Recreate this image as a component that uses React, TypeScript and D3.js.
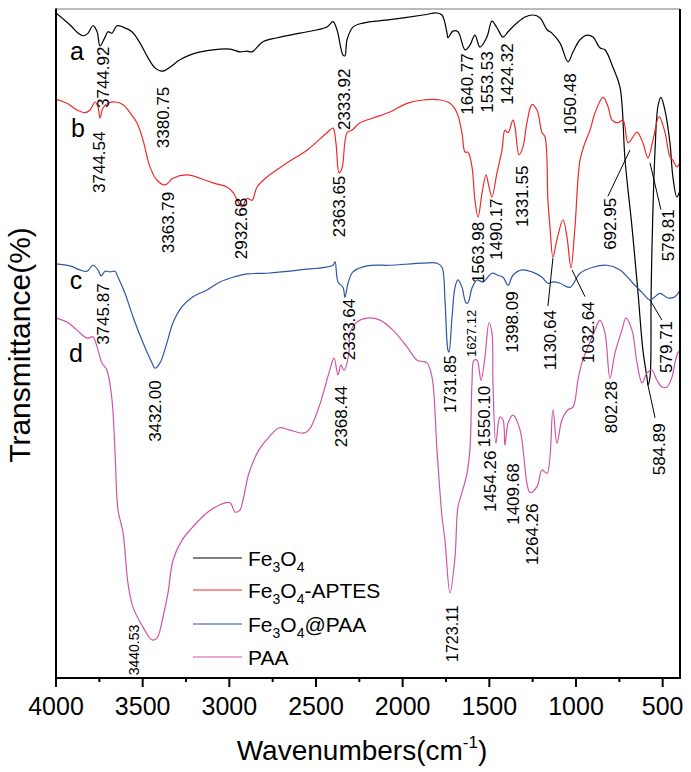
import React from "react";
import * as d3 from "d3";

// ---- data: [wavenumber (cm-1), transmittance (a.u., stacked)] ----
const seriesNames = ["Fe3O4", "Fe3O4-APTES", "Fe3O4@PAA", "PAA"];
const seriesColors = ["#000000", "#ee2a2a", "#2f55a4", "#cf55a6"];

const fe3o4: [number, number][] = [
  [4000, 99.4], [3919, 97.6], [3873, 96.4], [3844, 96.0], [3815, 96.4], [3787, 97.5], [3763, 96.6], [3746, 94.5],
  [3717, 95.8], [3700, 96.6], [3677, 96.4], [3648, 97.5], [3613, 97.3], [3562, 96.6], [3515, 94.9], [3469, 92.7],
  [3429, 91.2], [3388, 90.7], [3342, 91.3], [3285, 92.4], [3210, 93.3], [3094, 93.9], [2996, 94.0], [2939, 93.6],
  [2898, 93.7], [2869, 93.6], [2806, 95.1], [2725, 95.7], [2592, 96.4], [2437, 97.3], [2402, 98.1], [2379, 96.9],
  [2344, 93.1], [2333, 93.0], [2321, 95.4], [2287, 97.3], [2229, 97.9], [2073, 98.4], [1883, 99.1], [1802, 99.4],
  [1773, 99.1], [1744, 96.4], [1739, 95.7], [1710, 96.7], [1681, 96.6], [1640, 93.9], [1612, 94.6], [1583, 96.1],
  [1554, 94.3], [1514, 95.8], [1485, 98.2], [1456, 97.2], [1421, 95.8], [1392, 96.6], [1341, 97.9], [1294, 98.8],
  [1248, 99.1], [1208, 98.7], [1167, 96.9], [1139, 96.4], [1092, 94.9], [1046, 92.1], [1017, 93.6], [977, 95.4],
  [937, 96.1], [902, 95.8], [862, 94.2], [833, 93.9], [787, 91.3], [746, 88.3], [717, 77.4], [677, 67.4],
  [642, 57.5], [614, 49.0], [590, 44.8], [585, 43.8], [573, 45.0], [567, 56.5], [562, 64.0], [544, 78.9],
  [527, 85.5], [510, 86.8], [487, 84.9], [458, 80.0], [441, 74.9], [418, 71.9], [400, 72.9],
];

const fe3o4Aptes: [number, number][] = [
  [4000, 86.5], [3937, 85.9], [3879, 84.9], [3833, 84.5], [3804, 84.9], [3775, 86.1], [3758, 85.4], [3746, 83.7],
  [3729, 85.2], [3700, 85.9], [3660, 86.1], [3613, 85.7], [3573, 84.5], [3533, 83.0], [3498, 80.4], [3458, 76.4],
  [3417, 74.4], [3371, 73.7], [3325, 74.7], [3244, 75.2], [3169, 74.7], [3094, 74.0], [3014, 73.4], [2979, 72.6],
  [2950, 71.2], [2927, 70.4], [2898, 71.7], [2869, 71.4], [2840, 73.4], [2783, 74.9], [2667, 77.0], [2552, 78.9],
  [2437, 81.5], [2402, 82.2], [2385, 80.0], [2367, 75.5], [2350, 76.2], [2321, 81.5], [2292, 81.9], [2246, 83.0],
  [2171, 83.7], [2073, 84.6], [1975, 85.9], [1883, 86.4], [1785, 86.4], [1727, 85.9], [1687, 84.5], [1658, 81.5],
  [1640, 78.6], [1623, 78.6], [1600, 76.4], [1583, 71.4], [1565, 68.9], [1542, 72.5], [1519, 75.2], [1502, 73.4],
  [1485, 71.9], [1456, 75.5], [1427, 78.9], [1410, 81.9], [1392, 81.5], [1364, 83.4], [1352, 82.4], [1329, 78.2],
  [1306, 79.4], [1283, 83.0], [1254, 85.7], [1225, 84.9], [1196, 81.5], [1179, 80.9], [1162, 71.4], [1150, 67.4],
  [1133, 62.9], [1110, 65.5], [1075, 68.5], [1052, 65.9], [1029, 61.3], [1006, 67.4], [977, 77.4], [948, 80.0],
  [919, 81.9], [890, 84.5], [844, 86.8], [815, 85.4], [792, 83.4], [758, 83.0], [729, 83.4], [700, 80.0],
  [671, 80.9], [648, 81.6], [614, 80.0], [585, 77.7], [556, 80.4], [521, 83.9], [487, 81.6], [458, 77.9],
  [441, 77.4], [418, 76.4], [400, 77.1],
];

const fe3o4Paa: [number, number][] = [
  [4000, 61.9], [3919, 61.6], [3862, 61.0], [3821, 60.8], [3787, 61.7], [3758, 61.0], [3740, 60.1], [3717, 60.8],
  [3688, 60.7], [3660, 60.8], [3642, 59.9], [3602, 57.5], [3556, 54.0], [3498, 50.1], [3446, 47.1], [3429, 46.3],
  [3400, 47.1], [3360, 50.1], [3325, 53.1], [3273, 55.5], [3210, 57.0], [3129, 58.0], [3054, 59.2], [2979, 59.9],
  [2898, 60.4], [2783, 60.5], [2592, 61.0], [2402, 61.7], [2390, 62.2], [2373, 59.2], [2344, 58.4], [2333, 56.9],
  [2315, 59.0], [2287, 60.7], [2206, 61.6], [2073, 61.7], [1883, 62.0], [1802, 62.0], [1773, 61.4], [1756, 56.5],
  [1739, 49.0], [1733, 48.7], [1715, 54.0], [1698, 58.4], [1681, 59.5], [1658, 58.4], [1635, 56.1], [1623, 56.1],
  [1600, 58.3], [1571, 59.5], [1537, 59.2], [1485, 60.5], [1450, 60.2], [1421, 59.9], [1392, 58.7], [1364, 60.2],
  [1312, 61.0], [1254, 60.7], [1196, 59.9], [1162, 59.0], [1133, 59.2], [1092, 59.0], [1035, 58.4], [977, 60.5],
  [902, 61.4], [821, 61.7], [746, 61.0], [671, 59.0], [614, 57.5], [573, 56.5], [544, 57.0], [515, 57.5],
  [469, 56.8], [429, 57.0], [400, 58.0],
];

const paa: [number, number][] = [
  [4000, 53.8], [3937, 53.2], [3879, 52.0], [3821, 50.8], [3787, 51.0], [3763, 49.5], [3735, 47.1], [3706, 46.0],
  [3677, 41.6], [3660, 34.1], [3642, 25.1], [3613, 21.7], [3585, 14.2], [3556, 10.6], [3498, 7.6], [3446, 5.7],
  [3417, 6.0], [3383, 9.1], [3354, 12.7], [3325, 17.6], [3273, 20.6], [3210, 22.6], [3129, 24.7], [3054, 25.9],
  [2996, 26.2], [2967, 24.8], [2939, 25.1], [2921, 26.6], [2887, 30.6], [2829, 34.1], [2771, 36.0], [2713, 37.4],
  [2656, 37.1], [2575, 36.6], [2540, 37.1], [2483, 40.5], [2425, 45.6], [2396, 47.8], [2373, 45.3], [2356, 46.8],
  [2339, 46.0], [2310, 48.6], [2304, 51.6], [2264, 53.2], [2206, 53.8], [2131, 53.5], [2056, 52.0], [1975, 49.5],
  [1917, 47.5], [1860, 47.1], [1831, 45.0], [1802, 34.1], [1773, 24.1], [1756, 20.6], [1727, 12.7], [1698, 18.1],
  [1681, 25.6], [1658, 27.7], [1629, 30.6], [1612, 34.1], [1600, 44.1], [1589, 47.5], [1571, 47.5], [1548, 44.5],
  [1525, 48.0], [1502, 53.1], [1485, 51.6], [1479, 44.1], [1462, 35.1], [1439, 39.0], [1421, 38.6], [1410, 34.8],
  [1392, 38.1], [1364, 39.3], [1323, 37.1], [1283, 29.1], [1265, 27.7], [1225, 28.6], [1196, 31.1], [1167, 30.6],
  [1133, 40.1], [1110, 35.1], [1081, 38.6], [1046, 40.1], [1017, 40.5], [989, 44.5], [966, 47.1], [931, 49.5],
  [890, 52.0], [862, 53.5], [833, 51.6], [804, 44.8], [775, 48.6], [735, 52.0], [712, 53.8], [677, 52.0],
  [648, 47.1], [619, 44.1], [590, 45.6], [562, 46.0], [533, 44.5], [504, 43.5], [475, 43.5], [446, 45.0],
  [429, 47.1], [412, 48.6], [400, 49.0],
];

const allSeries = [fe3o4, fe3o4Aptes, fe3o4Paa, paa];

const majorTicks = [4000, 3500, 3000, 2500, 2000, 1500, 1000, 500];
const minorTicks = [3750, 3250, 2750, 2250, 1750, 1250, 750];

// peak labels: [text, wavenumber position, transmittance at text start, font size]
const peakLabels: [string, number, number, number][] = [
  ["3744.92", 3729, 85.2, 17], ["3380.75", 3383, 79.2, 17], ["3744.54", 3752, 72.5, 17], ["3363.79", 3354, 63.5, 17],
  ["2932.68", 2933, 62.6, 17], ["2333.92", 2339, 81.9, 17], ["2363.65", 2367, 65.9, 17], ["1640.77", 1629, 84.2, 17],
  ["1553.53", 1514, 84.5, 17], ["1424.32", 1398, 85.7, 17], ["1050.48", 1035, 81.2, 17], ["1563.98", 1565, 59.0, 17],
  ["1490.17", 1462, 62.5, 17], ["1331.55", 1312, 67.4, 17], ["692.95", 804, 64.0, 17], ["579.81", 469, 62.3, 17],
  ["3745.87", 3729, 49.8, 17], ["3432.00", 3429, 35.3, 17], ["2333.64", 2310, 47.5, 17], ["2368.44", 2356, 34.5, 17],
  ["1731.85", 1727, 39.6, 16], ["1627.12", 1606, 48.0, 13], ["1398.09", 1369, 48.6, 17], ["1130.64", 1150, 46.0, 17],
  ["1032.64", 931, 47.1, 17], ["579.71", 481, 45.6, 17], ["1550.10", 1531, 34.5, 17], ["1454.26", 1496, 24.8, 17],
  ["1409.68", 1364, 22.9, 17], ["1264.26", 1254, 16.9, 17], ["802.28", 798, 36.6, 17], ["584.89", 521, 30.3, 17],
  ["1723.11", 1715, 2.4, 16], ["3440.53", 3550, 0.4, 14],
];

// leader lines: [wn1, t1, wn2, t2]
const leaders: [number, number, number, number][] = [
  [816, 72.0, 689, 78.9], [510, 70.0, 573, 77.0], [1162, 55.6, 1133, 62.8],
  [948, 57.0, 1023, 61.0], [504, 53.5, 573, 56.5], [544, 38.9, 585, 43.8],
];

// curve letters: [letter, wn, transmittance baseline]
const curveLetters: [string, number, number][] = [
  ["a", 3879, 92.4], ["b", 3873, 80.9], ["c", 3885, 58.1], ["d", 3885, 47.2],
];

const W = 691;
const H = 772;
const M = { left: 56, right: 11, top: 9, bottom: 94 };
const FONT = "'Liberation Sans', Arial, Helvetica, sans-serif";

export default function App() {
  const x = d3.scaleLinear().domain([4000, 400]).range([M.left, W - M.right]);
  const y = d3.scaleLinear().domain([0, 100]).range([H - M.bottom, M.top]);
  const line = d3
    .line<[number, number]>()
    .x((d) => x(d[0]))
    .y((d) => y(d[1]))
    .curve(d3.curveCatmullRom.alpha(0.5));

  const x0 = M.left;
  const x1 = W - M.right;
  const y0 = H - M.bottom;
  const y1 = M.top;

  const legendX = x0 + 137;
  const legendY = [y0 - 120, y0 - 88, y0 - 54, y0 - 21];

  const legendLabel = (i: number) => {
    const sub = (t: string) => (
      <tspan fontSize={14} dy={6}>{t}</tspan>
    );
    const up = (t: string) => <tspan dy={-6}>{t}</tspan>;
    if (i === 0) return <>Fe{sub("3")}{up("O")}{sub("4")}</>;
    if (i === 1) return <>Fe{sub("3")}{up("O")}{sub("4")}{up("-APTES")}</>;
    if (i === 2) return <>Fe{sub("3")}{up("O")}{sub("4")}{up("@PAA")}</>;
    return <>PAA</>;
  };

  return (
    <svg
      width={W}
      height={H}
      style={{ position: "absolute", left: 0, top: 0, background: "#fff" }}
      fontFamily={FONT}
    >
      <defs>
        <clipPath id="plot">
          <rect x={x0} y={y1} width={x1 - x0} height={y0 - y1} />
        </clipPath>
      </defs>
      <rect x={0} y={0} width={W} height={H} fill="#fff" />

      {/* spectra */}
      <g clipPath="url(#plot)">
        {allSeries.map((s, i) => (
          <path key={i} d={line(s) || ""} fill="none" stroke={seriesColors[i]} strokeWidth={1.2} strokeLinejoin="round" />
        ))}
      </g>

      {/* leader lines */}
      {leaders.map((l, i) => (
        <line key={i} x1={x(l[0])} y1={y(l[1])} x2={x(l[2])} y2={y(l[3])} stroke="#000" strokeWidth={1} />
      ))}

      {/* peak labels */}
      {peakLabels.map(([t, wn, v, fs], i) => (
        <text
          key={i}
          transform={`translate(${x(wn)},${y(v)}) rotate(-90)`}
          dy="0.35em"
          fontSize={fs}
          fill="#000"
        >
          {t}
        </text>
      ))}

      {/* curve letters */}
      {curveLetters.map(([t, wn, v], i) => (
        <text key={i} x={x(wn)} y={y(v)} textAnchor="middle" fontSize={25} fill="#000">
          {t}
        </text>
      ))}

      {/* legend */}
      {seriesNames.map((n, i) => (
        <g key={n}>
          <line x1={legendX} x2={legendX + 49} y1={legendY[i]} y2={legendY[i]} stroke={seriesColors[i]} strokeWidth={1.2} />
          <text x={legendX + 55} y={legendY[i]} dy="0.36em" fontSize={21} fill="#000">
            {legendLabel(i)}
          </text>
        </g>
      ))}

      {/* frame */}
      <line x1={x0} x2={x1} y1={y1} y2={y1} stroke="#777" strokeWidth={1} />
      <line x1={x1} x2={x1} y1={y1} y2={y0} stroke="#000" strokeWidth={2} />
      <line x1={x0} x2={x0} y1={y1 - 0.5} y2={y0 + 1} stroke="#000" strokeWidth={2} />
      <line x1={x0 - 1} x2={x1 + 1} y1={y0} y2={y0} stroke="#000" strokeWidth={2} />

      {/* ticks */}
      {majorTicks.map((t) => (
        <g key={t}>
          <line x1={x(t)} x2={x(t)} y1={y0} y2={y0 + 9} stroke="#000" strokeWidth={2} />
          <text x={x(t)} y={y0 + 37} textAnchor="middle" fontSize={25} fill="#000">
            {t}
          </text>
        </g>
      ))}
      {minorTicks.map((t) => (
        <line key={t} x1={x(t)} x2={x(t)} y1={y0} y2={y0 + 4} stroke="#000" strokeWidth={2} />
      ))}

      {/* axis titles */}
      <text x={(x0 + x1) / 2 - 6} y={y0 + 82} textAnchor="middle" fontSize={28} fill="#000">
        Wavenumbers(cm<tspan fontSize={17} dy={-12}>-1</tspan>
        <tspan dy={12}>)</tspan>
      </text>
      <text
        transform={`translate(${30},${345}) rotate(-90)`}
        textAnchor="middle"
        fontSize={30}
        fill="#000"
      >
        Transmittance(%)
      </text>
    </svg>
  );
}
